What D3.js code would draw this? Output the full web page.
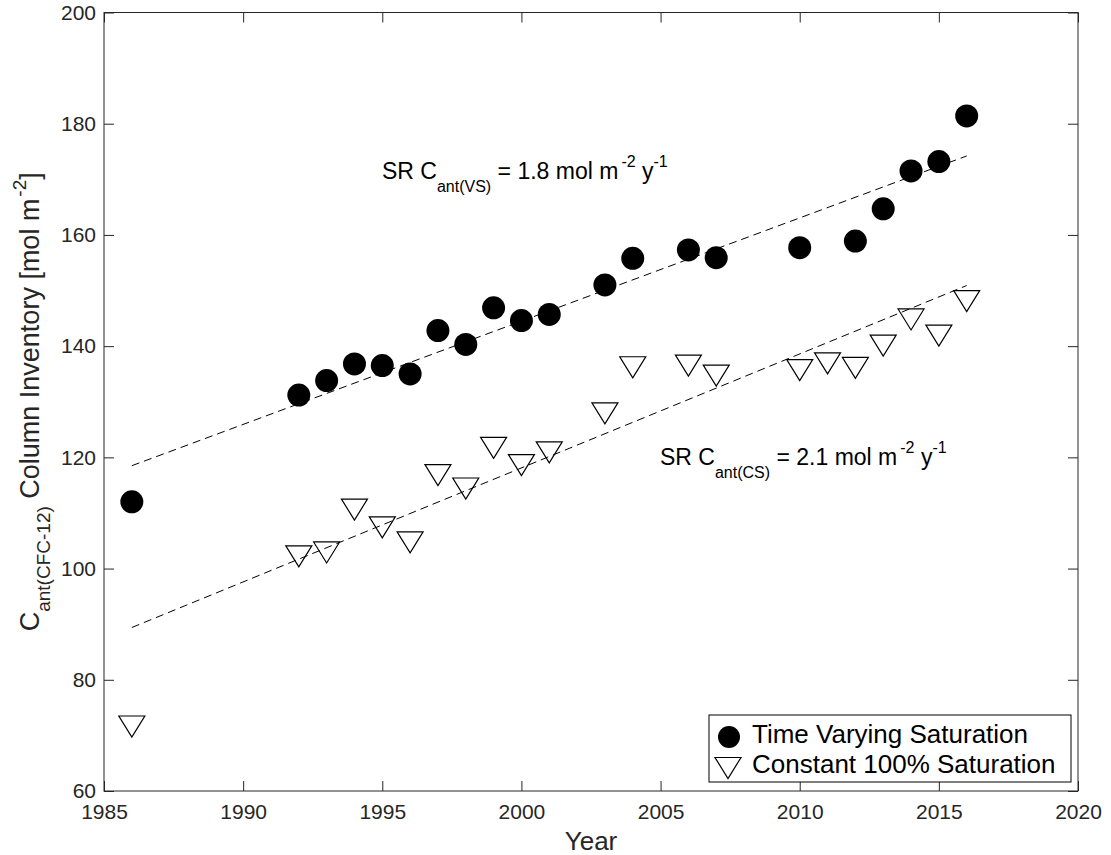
<!DOCTYPE html>
<html>
<head>
<meta charset="utf-8">
<script src="https://cdn.jsdelivr.net/npm/d3@7"></script>
<style>
  body { margin: 0; background: #fff; }
  text { font-family: "Liberation Sans", Arial, sans-serif; fill: #262626; }
</style>
</head>
<body>
<script>
var W = 1111, H = 855;
var margin = {left: 104, top: 12.5, right: 33, bottom: 64};
var pw = W - margin.left - margin.right,
    ph = H - margin.top - margin.bottom;

// data
var yearsVS = [1986,1992,1993,1994,1995,1996,1997,1998,1999,2000,2001,2003,2004,2006,2007,2010,2012,2013,2014,2015,2016];
var valuesVS = [112.0,131.2,133.8,136.8,136.5,135.0,142.8,140.3,146.9,144.6,145.7,151.0,155.8,157.3,155.9,157.7,158.9,164.7,171.5,173.2,181.4];

var yearsCS = [1986,1992,1993,1994,1995,1996,1997,1998,1999,2000,2001,2003,2004,2006,2007,2010,2011,2012,2013,2014,2015,2016];
var valuesCS = [71.6,102.2,102.9,110.6,107.4,104.7,116.8,114.4,121.7,118.6,120.9,127.9,136.2,136.5,134.7,135.7,136.9,136.1,140.1,144.8,141.9,148.1];

// fitted trend lines (endpoints)
var trendYears = [1986, 2016];
var trendVS = [118.5, 174.2];
var trendCS = [89.4, 150.9];

var xTicks = [1985,1990,1995,2000,2005,2010,2015,2020];
var yTicks = [60,80,100,120,140,160,180,200];

var svg = d3.select("body").append("svg")
    .attr("width", W)
    .attr("height", H);

var x = d3.scaleLinear().domain([1985, 2020]).range([margin.left, margin.left + pw]);
var y = d3.scaleLinear().domain([60, 200]).range([margin.top + ph, margin.top]);

// box + inward ticks on all four sides
var axisColor = "#262626";
var tk = 10;
svg.append("rect")
    .attr("x", margin.left).attr("y", margin.top)
    .attr("width", pw).attr("height", ph)
    .attr("fill", "none").attr("stroke", axisColor).attr("stroke-width", 1);

function tickAxis(axis, transform){
  var g = svg.append("g").attr("transform", transform).call(axis);
  g.select(".domain").remove();
  g.selectAll("line").attr("stroke", axisColor);
  return g;
}

var xb = tickAxis(d3.axisBottom(x).tickValues(xTicks).tickFormat(d3.format("d")).tickSizeInner(-tk).tickPadding(13),
    "translate(0," + (margin.top + ph) + ")");
xb.selectAll("text").attr("font-size", 21).attr("fill", axisColor);
tickAxis(d3.axisTop(x).tickValues(xTicks).tickFormat("").tickSizeInner(-tk),
    "translate(0," + margin.top + ")");
var yl = tickAxis(d3.axisLeft(y).tickValues(yTicks).tickSizeInner(-tk).tickPadding(8),
    "translate(" + margin.left + ",0)");
yl.selectAll("text").attr("font-size", 21).attr("fill", axisColor);
tickAxis(d3.axisRight(y).tickValues(yTicks).tickFormat("").tickSizeInner(-tk),
    "translate(" + (margin.left + pw) + ",0)");

// rich text helper: parts = [text, size, shift, dx]
function rich(sel, parts){
  var prev = 0;
  parts.forEach(function(p){
    sel.append("tspan")
      .attr("font-size", p[1])
      .attr("dy", p[2] - prev)
      .attr("dx", p[3] || 0)
      .text(p[0]);
    prev = p[2];
  });
}

// trend lines
var line = d3.line().x(function(d){ return x(d[0]); }).y(function(d){ return y(d[1]); });
[trendVS, trendCS].forEach(function(t){
  svg.append("path")
    .datum(trendYears.map(function(yr, i){ return [yr, t[i]]; }))
    .attr("d", line)
    .attr("fill", "none")
    .attr("stroke", "#000")
    .attr("stroke-width", 1)
    .attr("stroke-dasharray", "8,5");
});

// markers
svg.selectAll(".vs")
  .data(yearsVS.map(function(yr, i){ return [yr, valuesVS[i]]; }))
  .enter().append("circle")
  .attr("class", "vs")
  .attr("cx", function(d){ return x(d[0]); })
  .attr("cy", function(d){ return y(d[1]); })
  .attr("r", 11.5)
  .attr("fill", "#000");

var tri = function(cx, cy){
  return "M" + (cx - 13) + "," + (cy - 10.5) + "L" + (cx + 13) + "," + (cy - 10.5) + "L" + cx + "," + (cy + 10.5) + "Z";
};
svg.selectAll(".cs")
  .data(yearsCS.map(function(yr, i){ return [yr, valuesCS[i]]; }))
  .enter().append("path")
  .attr("class", "cs")
  .attr("d", function(d){ return tri(x(d[0]), y(d[1])); })
  .attr("fill", "none")
  .attr("stroke", "#000")
  .attr("stroke-width", 1.2);

// annotations
var a1 = svg.append("text").attr("x", 382).attr("y", 179).style("fill", "#000");
rich(a1, [["SR C", 23, 0], ["ant(VS)", 16, 13], [" = 1.8 mol m", 23, 0], ["-2", 16, -12, 3], [" y", 23, 0], ["-1", 16, -12]]);
var a2 = svg.append("text").attr("x", 660).attr("y", 465).style("fill", "#000");
rich(a2, [["SR C", 23, 0], ["ant(CS)", 16, 13], [" = 2.1 mol m", 23, 0], ["-2", 16, -12, 3], [" y", 23, 0], ["-1", 16, -12]]);

// axis labels
svg.append("text")
  .attr("x", margin.left + pw / 2).attr("y", 850)
  .attr("text-anchor", "middle").attr("font-size", 26)
  .text("Year");

var ylab = svg.append("text")
  .attr("transform", "translate(39," + (margin.top + ph / 2) + ") rotate(-90)")
  .attr("text-anchor", "middle");
rich(ylab, [["C", 27, 0], ["ant(CFC-12)", 19, 11], [" Column Inventory [mol m", 27, 0], ["-2", 19, -13, 2], ["]", 27, 0]]);

// legend
var lg = svg.append("g");
lg.append("rect")
  .attr("x", 709).attr("y", 715).attr("width", 362).attr("height", 67)
  .attr("fill", "#fff").attr("stroke", "#000").attr("stroke-width", 1);
lg.append("circle").attr("cx", 729).attr("cy", 737).attr("r", 11).attr("fill", "#000");
lg.append("path").attr("d", tri(728, 768)).attr("fill", "none").attr("stroke", "#000").attr("stroke-width", 1.2);
lg.append("text").attr("x", 752).attr("y", 743).attr("font-size", 26).style("fill", "#000").text("Time Varying Saturation");
lg.append("text").attr("x", 752).attr("y", 773).attr("font-size", 26).style("fill", "#000").text("Constant 100% Saturation");
</script>
</body>
</html>
